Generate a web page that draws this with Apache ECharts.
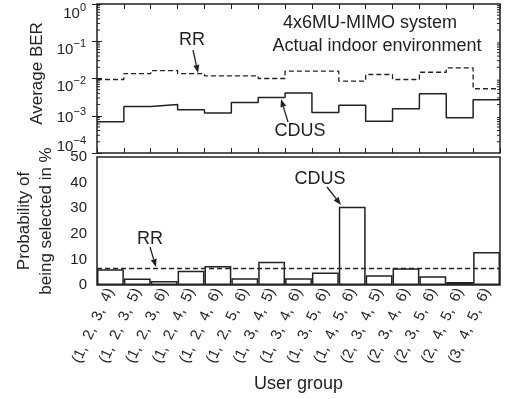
<!DOCTYPE html>
<html>
<head>
<meta charset="utf-8">
<script src="https://cdn.jsdelivr.net/npm/echarts@6/dist/echarts.min.js"></script>
<style>
  html, body { margin: 0; padding: 0; background: #fff; }
  #chart { width: 507px; height: 399px; }
</style>
</head>
<body>
<div id="chart"></div>
<script>
// user groups (x categories)
const groups = [
  '(1, 2, 3, 4)', '(1, 2, 3, 5)', '(1, 2, 3, 6)', '(1, 2, 4, 5)', '(1, 2, 4, 6)',
  '(1, 2, 5, 6)', '(1, 3, 4, 5)', '(1, 3, 4, 6)', '(1, 3, 5, 6)', '(1, 4, 5, 6)',
  '(2, 3, 4, 5)', '(2, 3, 4, 6)', '(2, 3, 5, 6)', '(2, 4, 5, 6)', '(3, 4, 5, 6)'
]
// average BER per group
const berRR = [0.0094, 0.0136, 0.0163, 0.0136, 0.0118, 0.0118, 0.0100, 0.0157,
  0.0157, 0.0085, 0.0128, 0.0094, 0.0147, 0.0192, 0.0053]
const berCDUS = [0.00069, 0.00177, 0.0020, 0.00144, 0.00118, 0.00226, 0.00307, 0.0041,
  0.00122, 0.00192, 0.00071, 0.00153, 0.0039, 0.00089, 0.0027]
// probability of being selected, %
const probCDUS = [6.2, 2.5, 1.6, 5.6, 7.4, 2.6, 9.1, 2.6, 4.9, 30.6, 3.8, 6.5, 3.4, 1.2, 12.9]
const probRR = 6.7
// tick labels
const berTicks = [1e-4, 1e-3, 1e-2, 1e-1, 1]
const probTicks = [0, 10, 20, 30, 40, 50]

const ink = '#222'
const font = 'Liberation Sans, Arial, sans-serif'

// step path: each group spans [i, i+1] on a 0..15 value axis
function steps(vals) {
  const pts = []
  vals.forEach((v, i) => {
    pts.push([i, v], [i + 1, v])
  })
  return pts
}

// minor ticks 2..9 for each decade of the log axis
const minorVals = []
for (let d = 0; d < berTicks.length - 1; d++) {
  for (let k = 2; k < 10; k++) minorVals.push([0, berTicks[d] * k])
}

// "10" + raised exponent; the original labels sit a little below their ticks
const labelShift = { 0: 10, 1: 9, 2: 8, 3: 2, 4: -6 }
const berRich = {}
Object.keys(labelShift).forEach(k => {
  const o = labelShift[k]
  const pTop = Math.max(4, 2 * o)
  const H = 2 * (pTop + 7.5 - o)
  const pt2 = pTop - 4
  berRich['b' + k] = { fontSize: 15, color: ink, fontFamily: font, verticalAlign: 'top',
    padding: [pTop, 0, H - 15 - pTop, 0] }
  berRich['e' + k] = { fontSize: 11, color: ink, fontFamily: font, verticalAlign: 'top',
    padding: [pt2, 0, H - 11 - pt2, 0] }
})

function sup(v) {
  const e = Math.round(Math.log10(v))
  const t = e < 0 ? '\u2212' + (-e) : '' + e
  return '{b' + (-e) + '|10}{e' + (-e) + '|' + t + '}'
}

function arrow(x1, y1, x2, y2) {
  const a = Math.atan2(y2 - y1, x2 - x1)
  const len = 8, w = 3
  const bx = x2 - len * Math.cos(a), by = y2 - len * Math.sin(a)
  return [
    { type: 'line', shape: { x1: x1, y1: y1, x2: bx, y2: by }, style: { stroke: ink, lineWidth: 1.3 } },
    {
      type: 'polygon',
      shape: {
        points: [[x2, y2],
          [bx + w * Math.sin(a), by - w * Math.cos(a)],
          [bx - w * Math.sin(a), by + w * Math.cos(a)]]
      },
      style: { fill: ink }
    }
  ]
}

function label(text, x, y, size) {
  return {
    type: 'text', x: x, y: y,
    style: { text: text, fill: ink, font: size + 'px ' + font, align: 'center', verticalAlign: 'middle' }
  }
}

const tickStyle = { inside: true, length: 5, lineStyle: { color: ink, width: 1 } }

const option = {
  animation: false,
  textStyle: { fontFamily: font, color: ink },
  grid: [
    { left: 97, right: 7, top: 4, height: 149, show: true, borderColor: ink, borderWidth: 1.5 },
    { left: 97, right: 7, top: 157, height: 128, show: true, borderColor: ink, borderWidth: 1.5 }
  ],
  xAxis: [
    { gridIndex: 0, type: 'value', min: 0, max: 15, interval: 1, position: 'bottom',
      axisLine: { show: false }, axisTick: tickStyle, axisLabel: { show: false }, splitLine: { show: false } },
    { gridIndex: 0, type: 'value', min: 0, max: 15, interval: 1, position: 'top',
      axisLine: { show: false }, axisTick: tickStyle, axisLabel: { show: false }, splitLine: { show: false } },
    { gridIndex: 1, type: 'category', data: groups, position: 'bottom', boundaryGap: true,
      axisLine: { show: false }, axisTick: tickStyle,
      axisLabel: { rotate: 65, margin: 4, fontSize: 15, color: ink, interval: 0,
        formatter: s => s.replace(/, /g, ',  ') },
      name: 'User group', nameLocation: 'middle', nameGap: 90,
      nameTextStyle: { fontSize: 18, color: ink } },
    { gridIndex: 1, type: 'category', data: groups, position: 'top', boundaryGap: true,
      axisLine: { show: false }, axisTick: tickStyle, axisLabel: { show: false } }
  ],
  yAxis: [
    { gridIndex: 0, type: 'log', min: berTicks[0], max: berTicks[berTicks.length - 1], interval: 1,
      axisLine: { show: false }, axisTick: tickStyle, splitLine: { show: false },
      axisLabel: { formatter: sup, margin: 11, rich: berRich, showMinLabel: true, showMaxLabel: true,
        hideOverlap: false },
      name: 'Average BER', nameLocation: 'middle', nameGap: 51,
      nameTextStyle: { fontSize: 17, color: ink, padding: [0, 0, 0, 10] } },
    { gridIndex: 0, type: 'log', min: berTicks[0], max: berTicks[berTicks.length - 1], interval: 1,
      position: 'right', axisLine: { show: false }, axisTick: tickStyle,
      axisLabel: { show: false }, splitLine: { show: false } },
    { gridIndex: 1, type: 'value', min: probTicks[0], max: probTicks[probTicks.length - 1], interval: 10,
      axisLine: { show: false }, axisTick: tickStyle, splitLine: { show: false },
      axisLabel: { fontSize: 15, color: ink, margin: 10 },
      name: 'Probability of\nbeing selected in %', nameLocation: 'middle', nameGap: 40,
      nameTextStyle: { fontSize: 17, color: ink, lineHeight: 22 } },
    { gridIndex: 1, type: 'value', min: probTicks[0], max: probTicks[probTicks.length - 1], interval: 10,
      position: 'right', axisLine: { show: false }, axisTick: tickStyle,
      axisLabel: { show: false }, splitLine: { show: false } }
  ],
  series: [
    { name: 'RR', type: 'line', xAxisIndex: 0, yAxisIndex: 0, data: steps(berRR),
      symbol: 'none', lineStyle: { color: ink, width: 1.3, type: [5, 3] } },
    { name: 'CDUS', type: 'line', xAxisIndex: 0, yAxisIndex: 0, data: steps(berCDUS),
      symbol: 'none', lineStyle: { color: ink, width: 1.5 } },
    { type: 'custom', xAxisIndex: 0, yAxisIndex: 0, data: minorVals, silent: true,
      renderItem: (params, api) => {
        const l = api.coord([0, api.value(1)])
        const r = api.coord([15, api.value(1)])
        return { type: 'group', children: [
          { type: 'line', shape: { x1: l[0], y1: l[1], x2: l[0] + 3, y2: l[1] }, style: { stroke: ink, lineWidth: 1 } },
          { type: 'line', shape: { x1: r[0] - 3, y1: r[1], x2: r[0], y2: r[1] }, style: { stroke: ink, lineWidth: 1 } }
        ] }
      } },
    { name: 'CDUS', type: 'bar', xAxisIndex: 2, yAxisIndex: 2, data: probCDUS, barWidth: '100%',
      itemStyle: { color: 'rgba(0,0,0,0)', borderColor: ink, borderWidth: 1.5 },
      markLine: { silent: true, symbol: 'none', label: { show: false },
        lineStyle: { color: ink, width: 1.3, type: [5, 3] }, data: [{ yAxis: probRR }] } }
  ],
  graphic: [
    label('4x6MU-MIMO system', 370, 23, 18),
    label('Actual indoor environment', 377, 46, 18),
    label('RR', 192, 40, 18),
    ...arrow(193, 50, 198, 73),
    label('CDUS', 300, 131, 18),
    ...arrow(288, 122, 281, 99),
    label('CDUS', 320, 179, 18),
    ...arrow(327, 187, 341, 205),
    label('RR', 150, 239, 18),
    ...arrow(150, 247, 156, 267)
  ]
}

const chart = echarts.init(document.getElementById('chart'))
chart.setOption(option)
</script>
</body>
</html>
